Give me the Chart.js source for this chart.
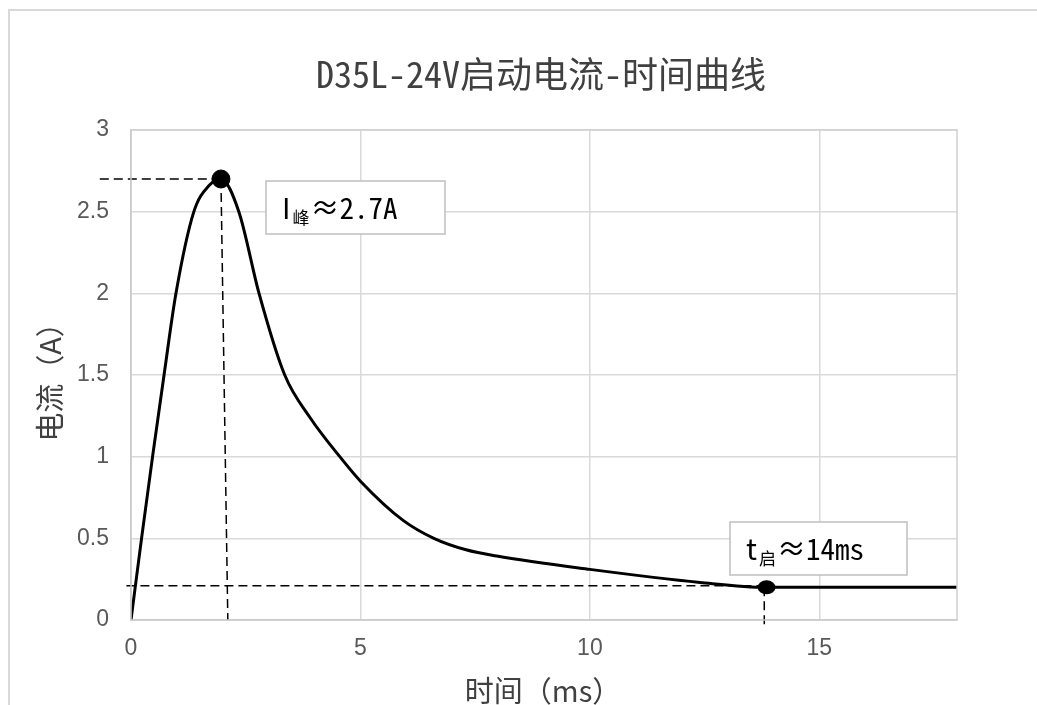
<!doctype html>
<html lang="zh">
<head>
<meta charset="utf-8">
<title>D35L-24V启动电流-时间曲线</title>
<script src="https://cdn.jsdelivr.net/npm/chart.js@4.4.1/dist/chart.umd.min.js"></script>
<style>
  html, body { margin: 0; padding: 0; background: #fff; }
  canvas { display: block; }
</style>
</head>
<body>
<canvas id="curveChart" width="1037" height="705"></canvas>
<script>
// current vs time
var timeMs   = [0, 0.23, 0.47, 0.72, 0.98, 1.37, 1.7, 1.96, 2.35, 2.79, 3.35, 3.9, 4.55, 5.0, 5.93, 6.6, 7.3, 8, 10, 12.4, 13.85, 15, 18];
var currentA = [0, 0.5, 1.0, 1.5, 2.0, 2.5, 2.66, 2.7, 2.5, 2.0, 1.5, 1.24, 1.0, 0.85, 0.61, 0.5, 0.43, 0.39, 0.31, 0.23, 0.2, 0.2, 0.2];

var peakPoint  = { x: 1.96, y: 2.7 };
var startPoint = { x: 13.85, y: 0.2 };

var xTicks = [0, 5, 10, 15];
var yTicks = [0, 0.5, 1, 1.5, 2, 2.5, 3];

var titleText  = 'D35L-24V启动电流-时间曲线';
var xTitle     = '时间（ms）';
var yTitle     = '电流（A）';

var cjk = '"Noto Sans CJK SC", "Noto Sans", sans-serif';
var mono = '"Noto Sans Mono CJK SC", "Noto Sans CJK SC", sans-serif';
var latin = '"Liberation Sans", Arial, sans-serif';

var curve = timeMs.map(function (t, i) { return { x: t, y: currentA[i] }; });

function dashed(points) {
    return {
        type: 'line', data: points, borderColor: '#000', borderWidth: 1.5,
        borderDash: [9, 5], pointRadius: 0, clip: false, tension: 0
    };
}

var extras = {
    id: 'extras',
    beforeDraw: function (chart) {
        var c = chart.ctx;
        c.save();
        c.fillStyle = '#fff';
        c.fillRect(0, 0, chart.width, chart.height);
        c.strokeStyle = '#d9d9d9';
        c.lineWidth = 2;
        c.strokeRect(9, 10, 1200, 900);
        c.restore();
    },
    afterDraw: function (chart) {
        var c = chart.ctx, a = chart.chartArea;
        c.save();
        // plot frame
        c.strokeStyle = '#d0d0d0';
        c.lineWidth = 1.5;
        c.strokeRect(a.left, a.top, a.right - a.left, a.bottom - a.top);

        // title
        c.fillStyle = '#404040';
        c.textAlign = 'center';
        c.textBaseline = 'middle';
        c.font = '36px ' + mono;
        c.fillText(titleText, 541, 74);

        // axis titles
        c.font = '29px ' + cjk;
        c.fillText(xTitle, 543, 691);
        c.translate(50, 375);
        c.rotate(-Math.PI / 2);
        c.fillText(yTitle, 0, 0);
        c.setTransform(1, 0, 0, 1, 0, 0);

        // label boxes
        function box(x, y, w, h, main, sub, rest) {
            c.fillStyle = '#fff';
            c.fillRect(x, y, w, h);
            c.strokeStyle = '#bfbfbf';
            c.lineWidth = 1.5;
            c.strokeRect(x, y, w, h);
            c.fillStyle = '#000';
            c.textAlign = 'left';
            c.textBaseline = 'alphabetic';
            var tx = x + 16, by = y + h / 2 + 11;
            c.font = '29px ' + cjk;
            c.fillText(main, tx, by);
            tx += c.measureText(main).width + 2;
            c.font = '17px ' + mono;
            c.fillText(sub, tx, by + 5);
            tx += c.measureText(sub).width + 1;
            c.font = '29px ' + mono;
            c.fillText(rest, tx, by);
        }
        box(266, 181, 179, 53, 'I', '峰', '≈2.7A');
        box(730, 522, 177, 53, 't', '启', '≈14ms');

        // start marker (slightly oval)
        var xs = chart.scales.x, ys = chart.scales.y;
        c.fillStyle = '#000';
        c.beginPath();
        c.ellipse(xs.getPixelForValue(startPoint.x), ys.getPixelForValue(startPoint.y), 9, 7, 0, 0, Math.PI * 2);
        c.fill();
        c.restore();
    }
};

new Chart(document.getElementById('curveChart'), {
    type: 'scatter',
    data: {
        datasets: [
            {
                type: 'line', data: curve, borderColor: '#000', borderWidth: 3,
                pointRadius: 0, cubicInterpolationMode: 'monotone', fill: false
            },
            dashed([{ x: -0.68, y: 2.7 }, { x: peakPoint.x, y: 2.7 }]),
            dashed([{ x: peakPoint.x, y: 2.7 }, { x: 2.11, y: 0 }]),
            dashed([{ x: -0.1, y: 0.21 }, { x: startPoint.x, y: 0.21 }]),
            dashed([{ x: startPoint.x - 0.05, y: startPoint.y }, { x: startPoint.x - 0.05, y: -0.05 }]),
            {
                data: [peakPoint], backgroundColor: '#000', borderColor: '#000',
                pointRadius: 9, clip: false
            }
        ]
    },
    options: {
        responsive: false,
        animation: false,
        layout: { padding: { left: 0, top: 130, right: 80, bottom: 0 } },
        plugins: { legend: { display: false }, tooltip: { enabled: false }, title: { display: false } },
        scales: {
            x: {
                type: 'linear', min: 0, max: 18,
                afterFit: function (s) { s.height = 85; },
                afterBuildTicks: function (s) { s.ticks = xTicks.map(function (v) { return { value: v }; }); },
                grid: { color: '#d9d9d9', lineWidth: 1.5, drawTicks: false },
                border: { color: '#bfbfbf', width: 1.5 },
                ticks: {
                    padding: 15, color: '#595959', font: { family: latin, size: 23 },
                    callback: function (v) { return String(v); }
                }
            },
            y: {
                min: 0, max: 3,
                afterFit: function (s) { s.width = 131; },
                afterBuildTicks: function (s) { s.ticks = yTicks.map(function (v) { return { value: v }; }); },
                grid: { color: '#d9d9d9', lineWidth: 1.5, drawTicks: false },
                border: { color: '#bfbfbf', width: 1.5 },
                ticks: {
                    padding: 22, color: '#595959', font: { family: latin, size: 23 },
                    callback: function (v) { return String(v); }
                }
            }
        }
    },
    plugins: [extras]
});
</script>
</body>
</html>
